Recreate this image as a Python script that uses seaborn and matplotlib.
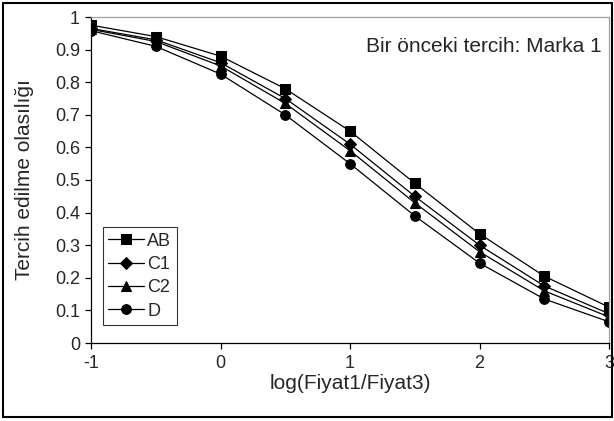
import matplotlib
matplotlib.use("Agg")
import matplotlib.pyplot as plt
import seaborn as sns
import pandas as pd
from matplotlib.patches import Rectangle

x_vals = [-1, -0.5, 0, 0.5, 1, 1.5, 2, 2.5, 3]
ab = [0.975, 0.94, 0.88, 0.78, 0.65, 0.49, 0.335, 0.205, 0.11]
c1 = [0.965, 0.93, 0.86, 0.75, 0.61, 0.45, 0.30, 0.175, 0.09]
c2 = [0.962, 0.925, 0.85, 0.735, 0.59, 0.43, 0.28, 0.16, 0.08]
d = [0.958, 0.91, 0.825, 0.70, 0.55, 0.39, 0.245, 0.135, 0.065]
series_names = ["AB", "C1", "C2", "D"]
y_ticks = [0, 0.1, 0.2, 0.3, 0.4, 0.5, 0.6, 0.7, 0.8, 0.9, 1]
y_tick_labels = ["0", "0.1", "0.2", "0.3", "0.4", "0.5", "0.6", "0.7", "0.8", "0.9", "1"]
x_ticks = [-1, 0, 1, 2, 3]
x_tick_labels = ["-1", "0", "1", "2", "3"]

rows = []
for name, vals in zip(series_names, [ab, c1, c2, d]):
    for xv, yv in zip(x_vals, vals):
        rows.append({"x": xv, "y": yv, "seri": name})
df = pd.DataFrame(rows)

sns.set_style("white")
plt.rcParams["font.family"] = ["Liberation Sans", "DejaVu Sans"]

fig = plt.figure(figsize=(6.14, 4.21), dpi=100)
ax = fig.add_axes([91 / 614, 1 - 343 / 421, (609 - 91) / 614, (343 - 17) / 421])

markers = {"AB": "s", "C1": "D", "C2": "^", "D": "o"}
msizes = {"AB": 7, "C1": 6, "C2": 7, "D": 7}
for name in series_names:
    sub = df[df["seri"] == name]
    sns.lineplot(data=sub, x="x", y="y", ax=ax, color="black", linewidth=0.9,
                 marker=markers[name], markersize=msizes[name],
                 markeredgecolor="black", markerfacecolor="black",
                 label=name, legend=False)

ax.set_xlim(-1, 3)
ax.set_ylim(0, 1)
ax.set_xticks(x_ticks)
ax.set_xticklabels(x_tick_labels)
ax.set_yticks(y_ticks)
ax.set_yticklabels(y_tick_labels)
ax.tick_params(axis="both", direction="out", length=4, width=0.9, color="black",
               labelsize=13, left=True, bottom=True)
ax.tick_params(axis="x", pad=5)
ax.tick_params(axis="y", pad=4)
for s in ["left", "bottom"]:
    ax.spines[s].set_color("black")
    ax.spines[s].set_linewidth(0.9)
for s in ["top", "right"]:
    ax.spines[s].set_color("#a0a0a0")
    ax.spines[s].set_linewidth(0.9)

ax.set_xlabel("log(Fiyat1/Fiyat3)", fontsize=15, labelpad=1)
ax.set_ylabel("Tercih edilme olasılığı", fontsize=15, labelpad=15)

ax.text(0.985, 0.91, "Bir önceki tercih: Marka 1", transform=ax.transAxes,
        ha="right", va="center", fontsize=15)

handles, labels = ax.get_legend_handles_labels()
leg = ax.legend(handles, labels, loc="lower left", bbox_to_anchor=(0.023, 0.055),
                frameon=True, fancybox=False, edgecolor="black", fontsize=13,
                handlelength=2.0, handletextpad=0.15, labelspacing=0.35,
                borderpad=0.3, borderaxespad=0)
leg.get_frame().set_linewidth(0.8)

fig.patches.append(Rectangle((3 / 614, 4 / 421), 609 / 614, 414 / 421,
                             transform=fig.transFigure, fill=False,
                             edgecolor="black", linewidth=1.5))

fig.savefig("out.png", dpi=100)
